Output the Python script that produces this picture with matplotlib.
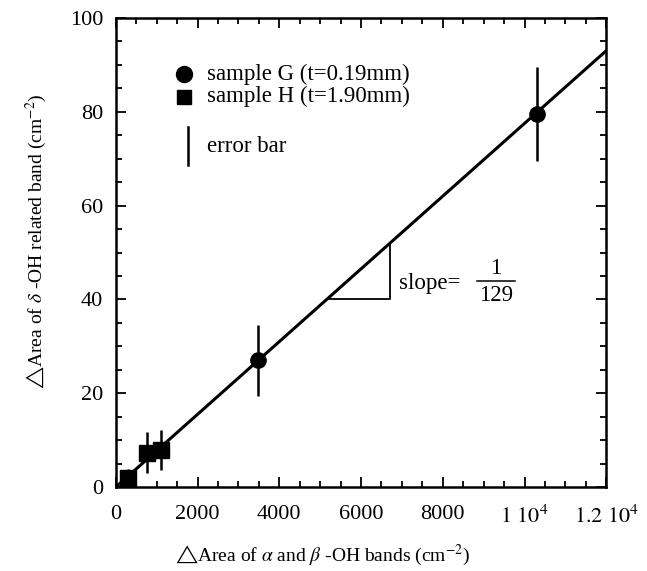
import numpy as np
import matplotlib
matplotlib.use("Agg")
import matplotlib.pyplot as plt
from matplotlib.ticker import MultipleLocator, FixedLocator, FixedFormatter

plt.rcParams['font.family'] = ['Liberation Serif', 'DejaVu Serif']
plt.rcParams['mathtext.fontset'] = 'stix'

# sample G (t=0.19mm)
g_x = [3480, 10300]
g_y = [27.0, 79.5]
g_err = [7.5, 10.0]

# sample H (t=1.90mm)
h_x = [290, 760, 1100]
h_y = [2.0, 7.3, 7.9]
h_err = [1.8, 4.4, 4.3]

# fitted line, slope = 1/129
slope_den = 129
fit_x = np.array([0, 12500])

xticks = [0, 2000, 4000, 6000, 8000, 10000, 12000]
xticklabels = ['0', '2000', '4000', '6000', '8000', r'$1\ 10^4$', r'$1.2\ 10^4$']
yticks = [0, 20, 40, 60, 80, 100]

fig = plt.figure(figsize=(6.47, 5.71), dpi=100)
ax = fig.add_axes([0.179, 0.147, 0.758, 0.8215])

ax.plot(fit_x, fit_x / slope_den, color='black', lw=2.2, zorder=2)

ax.errorbar(g_x, g_y, yerr=g_err, fmt='o', color='black', ms=11,
            elinewidth=1.8, capsize=0, zorder=3)
ax.errorbar(h_x, h_y, yerr=h_err, fmt='s', color='black', ms=11,
            elinewidth=1.8, capsize=0, zorder=3)

# slope triangle
tri_x0, tri_x1 = 5160, 6700
ax.plot([tri_x0, tri_x1, tri_x1], [tri_x0 / slope_den, tri_x0 / slope_den, tri_x1 / slope_den],
        color='black', lw=1.3)
ax.text(6920, 43.3, 'slope=', fontsize=16.5, va='center', ha='left')
ax.plot([8840, 9770], [44.0, 44.0], color='black', lw=1.1)
ax.text(9300, 46.6, '1', fontsize=16.5, va='center', ha='center')
ax.text(9300, 40.8, '129', fontsize=16.5, va='center', ha='center')

# legend
ax.plot([0.139], [0.88], 'o', color='black', ms=11.5, transform=ax.transAxes)
ax.plot([0.139], [0.832], 's', color='black', ms=10, transform=ax.transAxes)
ax.text(0.186, 0.88, 'sample G (t=0.19mm)', transform=ax.transAxes, fontsize=16.5, va='center')
ax.text(0.186, 0.832, 'sample H (t=1.90mm)', transform=ax.transAxes, fontsize=16.5, va='center')
ax.plot([0.147, 0.147], [0.687, 0.768], color='black', lw=1.8, transform=ax.transAxes)
ax.text(0.186, 0.727, 'error bar', transform=ax.transAxes, fontsize=16.5, va='center')

ax.set_xlim(0, 12000)
ax.set_ylim(0, 100)
ax.xaxis.set_major_locator(FixedLocator(xticks))
ax.xaxis.set_major_formatter(FixedFormatter(xticklabels))
ax.xaxis.set_minor_locator(MultipleLocator(500))
ax.yaxis.set_major_locator(FixedLocator(yticks))
ax.yaxis.set_minor_locator(MultipleLocator(5))
ax.tick_params(which='both', direction='in', top=True, right=True, labelsize=16, width=1.3)
ax.tick_params(which='major', length=7, pad=9)
ax.tick_params(axis='x', which='major', pad=13)
ax.tick_params(which='minor', length=4)
for s in ax.spines.values():
    s.set_linewidth(1.8)

fig.text(0.499, 0.028, r'$\bigtriangleup$Area of $\alpha$ and $\beta$ -OH bands (cm$^{-2}$)',
         fontsize=14, ha='center', va='center')
fig.text(0.057, 0.578, r'$\bigtriangleup$Area of $\delta$ -OH related band (cm$^{-2}$)',
         fontsize=14, ha='center', va='center', rotation=90)

fig.savefig('out.png', dpi=100)
